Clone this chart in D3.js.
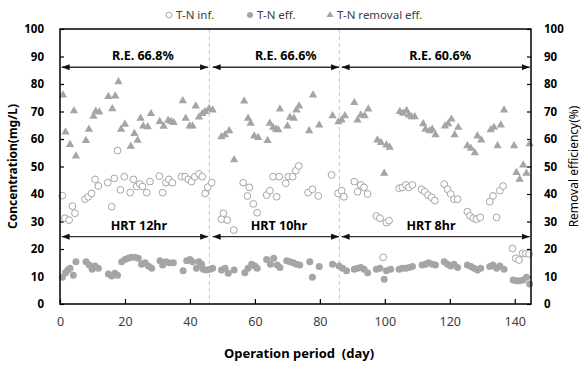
<!DOCTYPE html>
<html>
<head>
<meta charset="utf-8">
<script src="https://d3js.org/d3.v7.min.js"></script>
<style>
  body { margin: 0; background: #fff; }
  svg text { font-family: "Noto Sans", "Open Sans", sans-serif; }
</style>
</head>
<body>
<div id="chart"></div>
<script>
// T-N influent (open circles), [day, mg/L]
const infData = [[0.7,39.4],[1.5,31.2],[2.8,30.5],[3.8,35.6],[4.6,33],[7.7,38.1],[8.7,39],[9.7,40.2],[10.8,45.3],[11.8,42.9],[14.7,44.1],[15.9,35.4],[16.7,45.7],[17.7,55.8],[18.6,41.5],[19.8,46.3],[21.6,40.5],[22.6,45.3],[23.6,42.7],[24.6,43.6],[25.4,42.7],[26.7,40.5],[27.7,44.5],[30.6,46.5],[31.6,40.5],[32.6,44.1],[33.5,45.3],[34.6,44.1],[37.4,46.3],[38.5,46.3],[39.5,45.3],[40.5,44.5],[41.5,46.3],[42.8,47.3],[43.8,46.3],[44.7,40.2],[45.5,42.5],[46.7,44.1],
  [49.7,30.8],[50.3,33],[51.5,30.5],[53.5,26.9],[56.4,44.1],[57.7,39.3],[58.3,42.4],[59.5,36.4],[60.7,33.2],[63.6,39.6],[64.6,41.2],[65.6,46.3],[66.7,39],[67.5,46.3],[69.5,43.9],[70.3,46.3],[71.6,46.3],[72.6,48.5],[73.5,50.2],[76.4,40.5],[77.7,41.7],[79.5,39.3],[83.6,46.9],[85.6,40.2],[86.7,41.2],[87.4,39],
  [90.6,44.5],[91.6,40.8],[92.6,43.3],[93.6,42.4],[94.7,40],[97.4,32],[98.5,31.2],[99.5,17],[100.5,29.6],[101.3,30.3],[104.4,42.1],[105.4,42.4],[106.5,43.3],[107.4,42.4],[108.5,43.3],[111.3,41.7],[112.3,40.8],[113.3,39.6],[114.4,38.8],[115.4,37.6],[118.3,43.6],[119.3,41.7],[120.3,40],[121.3,38.1],[122.4,38.1],[125.4,33.6],[126.2,32],[127.2,31.2],[128.2,30.8],[129.4,31.5],[132.3,37.2],[133.3,39.3],[134.4,31.5],[135.4,41.2],[136.4,42.9],[139.3,20.2],[140.3,16.6],[141.3,16],[142.4,18.4],[143.4,18.4],[144.4,18.2]];

// T-N effluent (filled circles), [day, mg/L]
const effData = [[0.7,9.7],[1.7,11.4],[2.4,12.4],[3.1,13],[4.1,10.5],[4.9,15.4],[8,15.4],[9,14.2],[9.9,12.6],[10.8,13.8],[11.8,13],[14.9,10.9],[15.9,10.2],[16.9,11.2],[17.7,10.5],[19,15.4],[20,16.2],[21,16.6],[22,17],[23.1,17],[24.1,16.6],[25.1,14.5],[26.2,15],[27.2,13.8],[28.2,13],[30.8,15.7],[31.6,14.2],[32.6,15.4],[33.6,15],[34.9,15],[37.9,12.1],[39,15.7],[40,16.2],[40.8,15.4],[42,13],[42.8,15.4],[43.6,14.5],[44.1,12.6],[45.1,12.4],[46.2,12.6],[47,13],
  [49.7,12.4],[50.8,13],[51.8,11.2],[53.6,12.4],[56.9,11.4],[57.9,13],[59,14.5],[60,13.8],[60.7,13],[63.6,16.2],[64.8,14.5],[65.8,16.6],[66.9,14.2],[67.7,13.3],[69.8,15.7],[70.8,15.4],[71.8,15],[72.8,14.5],[73.8,14.2],[76.9,15.4],[77.7,9.7],[79.8,13.6],[83.9,14.5],[85.9,13.8],[87,13],[88.2,12.1],
  [90.6,12.6],[91.6,13],[92.6,13.3],[93.6,12.6],[94.7,11.4],[97.4,12.6],[98.5,13],[99.8,9],[100.5,12.1],[101.8,12.6],[104.4,12.6],[105.4,13],[106.5,13],[107.5,13.3],[108.5,13.6],[111.5,14.2],[112.5,14.5],[113.5,15],[114.6,14.5],[115.6,14.2],[118.3,15.4],[119.3,14.5],[120.3,13.8],[121.3,14.5],[122.4,13.3],[125.4,14.2],[126.5,13.6],[127.5,13],[128.5,12.4],[129.5,13],[132.3,13.6],[133.3,14.2],[134.4,13],[135.4,13.8],[136.7,12.6],[139.5,8.7],[140.5,8.5],[141.5,8.5],[142.6,8.7],[143.6,9.7],[144.6,7.3]];

// T-N removal efficiency (triangles), [day, %]
const remData = [[0.9,76],[1.7,62.5],[3.1,58],[4.3,70.2],[4.9,53.8],[8,59.4],[8.9,63.5],[10.3,68.2],[11,70.1],[12.1,69.8],[14.9,75.4],[16.1,71],[17,75.6],[18,80.8],[18.8,63.5],[20,65.3],[21.8,57.3],[22.9,62],[23.9,59.5],[24.8,67.5],[25.6,64.7],[27,64.4],[28,69.2],[30.7,66.3],[31.9,64.6],[33.3,66.8],[34.2,66.3],[35,66],[37.8,73.9],[38.7,67.5],[39.9,64.7],[40.8,64.7],[41.8,72],[42.8,68],[43.8,69.2],[44.7,70],[45.9,71],[47,70.5],
  [49.7,60.8],[50.8,61.5],[52.1,63],[53.6,52.4],[56.7,73.8],[57.9,67.5],[58.7,65.7],[59.8,61.1],[61,60.5],[63.9,59.4],[64.6,65.7],[65.6,64.2],[66.5,63.5],[67.2,63.3],[67.7,70.9],[70,64.7],[70.8,67.9],[72,67.5],[72.8,70.5],[73.6,72],[76.7,63],[77.9,76],[79.8,65.1],[83.9,68.4],[85.7,66.2],[86.7,66.9],[87.7,68.4],
  [90.6,73.2],[91.6,66.9],[92.6,68.7],[93.8,68.4],[94.9,70.9],[97.7,59.6],[98.8,58.7],[99.8,47.5],[100.5,57.8],[101.5,57],[104.6,70],[105.6,69.3],[106.7,70.3],[107.4,68.7],[108.2,68.1],[109.2,68.1],[111.8,65.5],[112.5,63.5],[113.8,63],[114.6,63.5],[115.6,61.5],[118.5,64.7],[119.5,65.5],[120.5,67.2],[121.5,61.5],[122.6,64.2],[125.4,57.5],[126.5,56.6],[127.7,55],[128.5,61.1],[129.7,59.6],[132.6,63.3],[133.6,64.2],[134.7,57.5],[135.7,65.1],[136.7,70.5],[139.8,57.5],[140.5,47.8],[141.5,45.3],[142.6,50.5],[143.6,47.5],[144.6,58.2]];

// operation phases
const phaseBreaks = [46, 86];
const phaseSpans = [[0.5, 45.6], [47, 85.9], [86.7, 144.6]];
const reLabels = ["R.E. 66.8%", "R.E. 66.6%", "R.E. 60.6%"];
const hrtLabels = ["HRT 12hr", "HRT 10hr", "HRT 8hr"];
const xTicks = [0, 20, 40, 60, 80, 100, 120, 140];
const yTicks = [0, 10, 20, 30, 40, 50, 60, 70, 80, 90, 100];

const W = 584, H = 365;
const grey = "#a5a5a5";

const svg = d3.select("#chart").append("svg")
  .attr("width", W).attr("height", H);

const x = d3.scaleLinear().domain([0, 145]).range([60, 531]);
const y = d3.scaleLinear().domain([0, 100]).range([304, 29]);

// axes (ticks point inward)
const xAxis = svg.append("g")
  .attr("transform", `translate(0,${y(0)})`)
  .call(d3.axisBottom(x).tickValues(xTicks).tickSize(-5).tickPadding(13));
xAxis.selectAll("text").attr("font-size", 12.5).attr("fill", "#404040");

const yLeft = svg.append("g")
  .attr("transform", `translate(${x(0)},0)`)
  .call(d3.axisLeft(y).tickValues(yTicks).tickSize(-4).tickPadding(16));
yLeft.selectAll("text").attr("font-size", 11.5).attr("font-weight", "bold").attr("fill", "#000");

const yRight = svg.append("g")
  .attr("transform", `translate(${x(145)},0)`)
  .call(d3.axisRight(y).tickValues(yTicks).tickSize(-4).tickPadding(13));
yRight.selectAll("text").attr("font-size", 11.5).attr("font-weight", "bold").attr("fill", "#000");

svg.selectAll(".domain").remove();
svg.selectAll(".tick line").attr("stroke", "#000").attr("stroke-width", 1.2);

// phase boundaries
svg.append("g").selectAll("line")
  .data(phaseBreaks).join("line")
  .attr("x1", d => x(d)).attr("x2", d => x(d))
  .attr("y1", y(100)).attr("y2", y(0))
  .attr("stroke", "#c8c8c8").attr("stroke-width", 1)
  .attr("stroke-dasharray", "4,3");

// arrows
const defs = svg.append("defs");
defs.append("marker").attr("id", "ah").attr("viewBox", "0 0 8 6")
  .attr("refX", 8).attr("refY", 3).attr("markerWidth", 8).attr("markerHeight", 6)
  .attr("markerUnits", "userSpaceOnUse").attr("orient", "auto-start-reverse")
  .append("path").attr("d", "M0,0L8,3L0,6Z").attr("fill", "#111");

function arrows(level) {
  svg.append("g").selectAll("line")
    .data(phaseSpans).join("line")
    .attr("x1", d => x(d[0])).attr("x2", d => x(d[1]))
    .attr("y1", y(level)).attr("y2", y(level))
    .attr("stroke", "#333").attr("stroke-width", 1.3)
    .attr("marker-start", "url(#ah)").attr("marker-end", "url(#ah)");
}
arrows(86.1);
arrows(24.5);

const reDays = [25.5, 69.5, 117];
const hrtDays = [24.3, 67.4, 114.2];
svg.append("g").selectAll("text")
  .data(reLabels).join("text")
  .attr("x", (d, i) => x(reDays[i])).attr("y", y(88.6))
  .attr("text-anchor", "middle").attr("font-size", 12.5).attr("font-weight", "bold")
  .text(d => d);
svg.append("g").selectAll("text")
  .data(hrtLabels).join("text")
  .attr("x", (d, i) => x(hrtDays[i])).attr("y", y(26.8))
  .attr("text-anchor", "middle").attr("font-size", 12.5).attr("font-weight", "bold")
  .text(d => d);

// series
const tri = d3.symbol().type(d3.symbolTriangle).size(30);

svg.append("g").selectAll("circle")
  .data(infData).join("circle")
  .attr("cx", d => x(d[0])).attr("cy", d => y(d[1])).attr("r", 3.4)
  .attr("fill", "#fff").attr("stroke", grey).attr("stroke-width", 1);

svg.append("g").selectAll("circle")
  .data(effData).join("circle")
  .attr("cx", d => x(d[0])).attr("cy", d => y(d[1])).attr("r", 3.5)
  .attr("fill", grey);

svg.append("g").selectAll("path")
  .data(remData).join("path")
  .attr("d", tri)
  .attr("transform", d => `translate(${x(d[0])},${y(d[1])})`)
  .attr("fill", grey);

// frame
svg.append("rect")
  .attr("x", x(0)).attr("y", y(100))
  .attr("width", x(145) - x(0)).attr("height", y(0) - y(100))
  .attr("fill", "none").attr("stroke", "#000").attr("stroke-width", 1.5);

// legend
const leg = svg.append("g").attr("font-size", 11.5).attr("fill", "#404040");
leg.append("circle").attr("cx", 169).attr("cy", 15).attr("r", 3)
  .attr("fill", "#fff").attr("stroke", grey);
leg.append("text").attr("x", 176).attr("y", 19).text("T-N inf.");
leg.append("circle").attr("cx", 250).attr("cy", 15).attr("r", 3).attr("fill", grey);
leg.append("text").attr("x", 257).attr("y", 19).text("T-N eff.");
leg.append("path").attr("d", d3.symbol().type(d3.symbolTriangle).size(22))
  .attr("transform", "translate(330,15)").attr("fill", grey);
leg.append("text").attr("x", 337).attr("y", 19).text("T-N removal eff.");

// axis titles
svg.append("text")
  .attr("transform", `translate(17,${(y(0) + y(100)) / 2}) rotate(-90)`)
  .attr("text-anchor", "middle").attr("font-size", 12).attr("font-weight", "bold")
  .text("Concentration(mg/L)");
svg.append("text")
  .attr("transform", `translate(578,${(y(0) + y(100)) / 2}) rotate(-90)`)
  .attr("text-anchor", "middle").attr("font-size", 12)
  .text("Removal efficiency(%)");
svg.append("text")
  .attr("x", 299).attr("y", 358)
  .attr("text-anchor", "middle").attr("font-size", 13).attr("font-weight", "bold")
  .attr("xml:space", "preserve")
  .text("Operation period  (day)");
</script>
</body>
</html>
